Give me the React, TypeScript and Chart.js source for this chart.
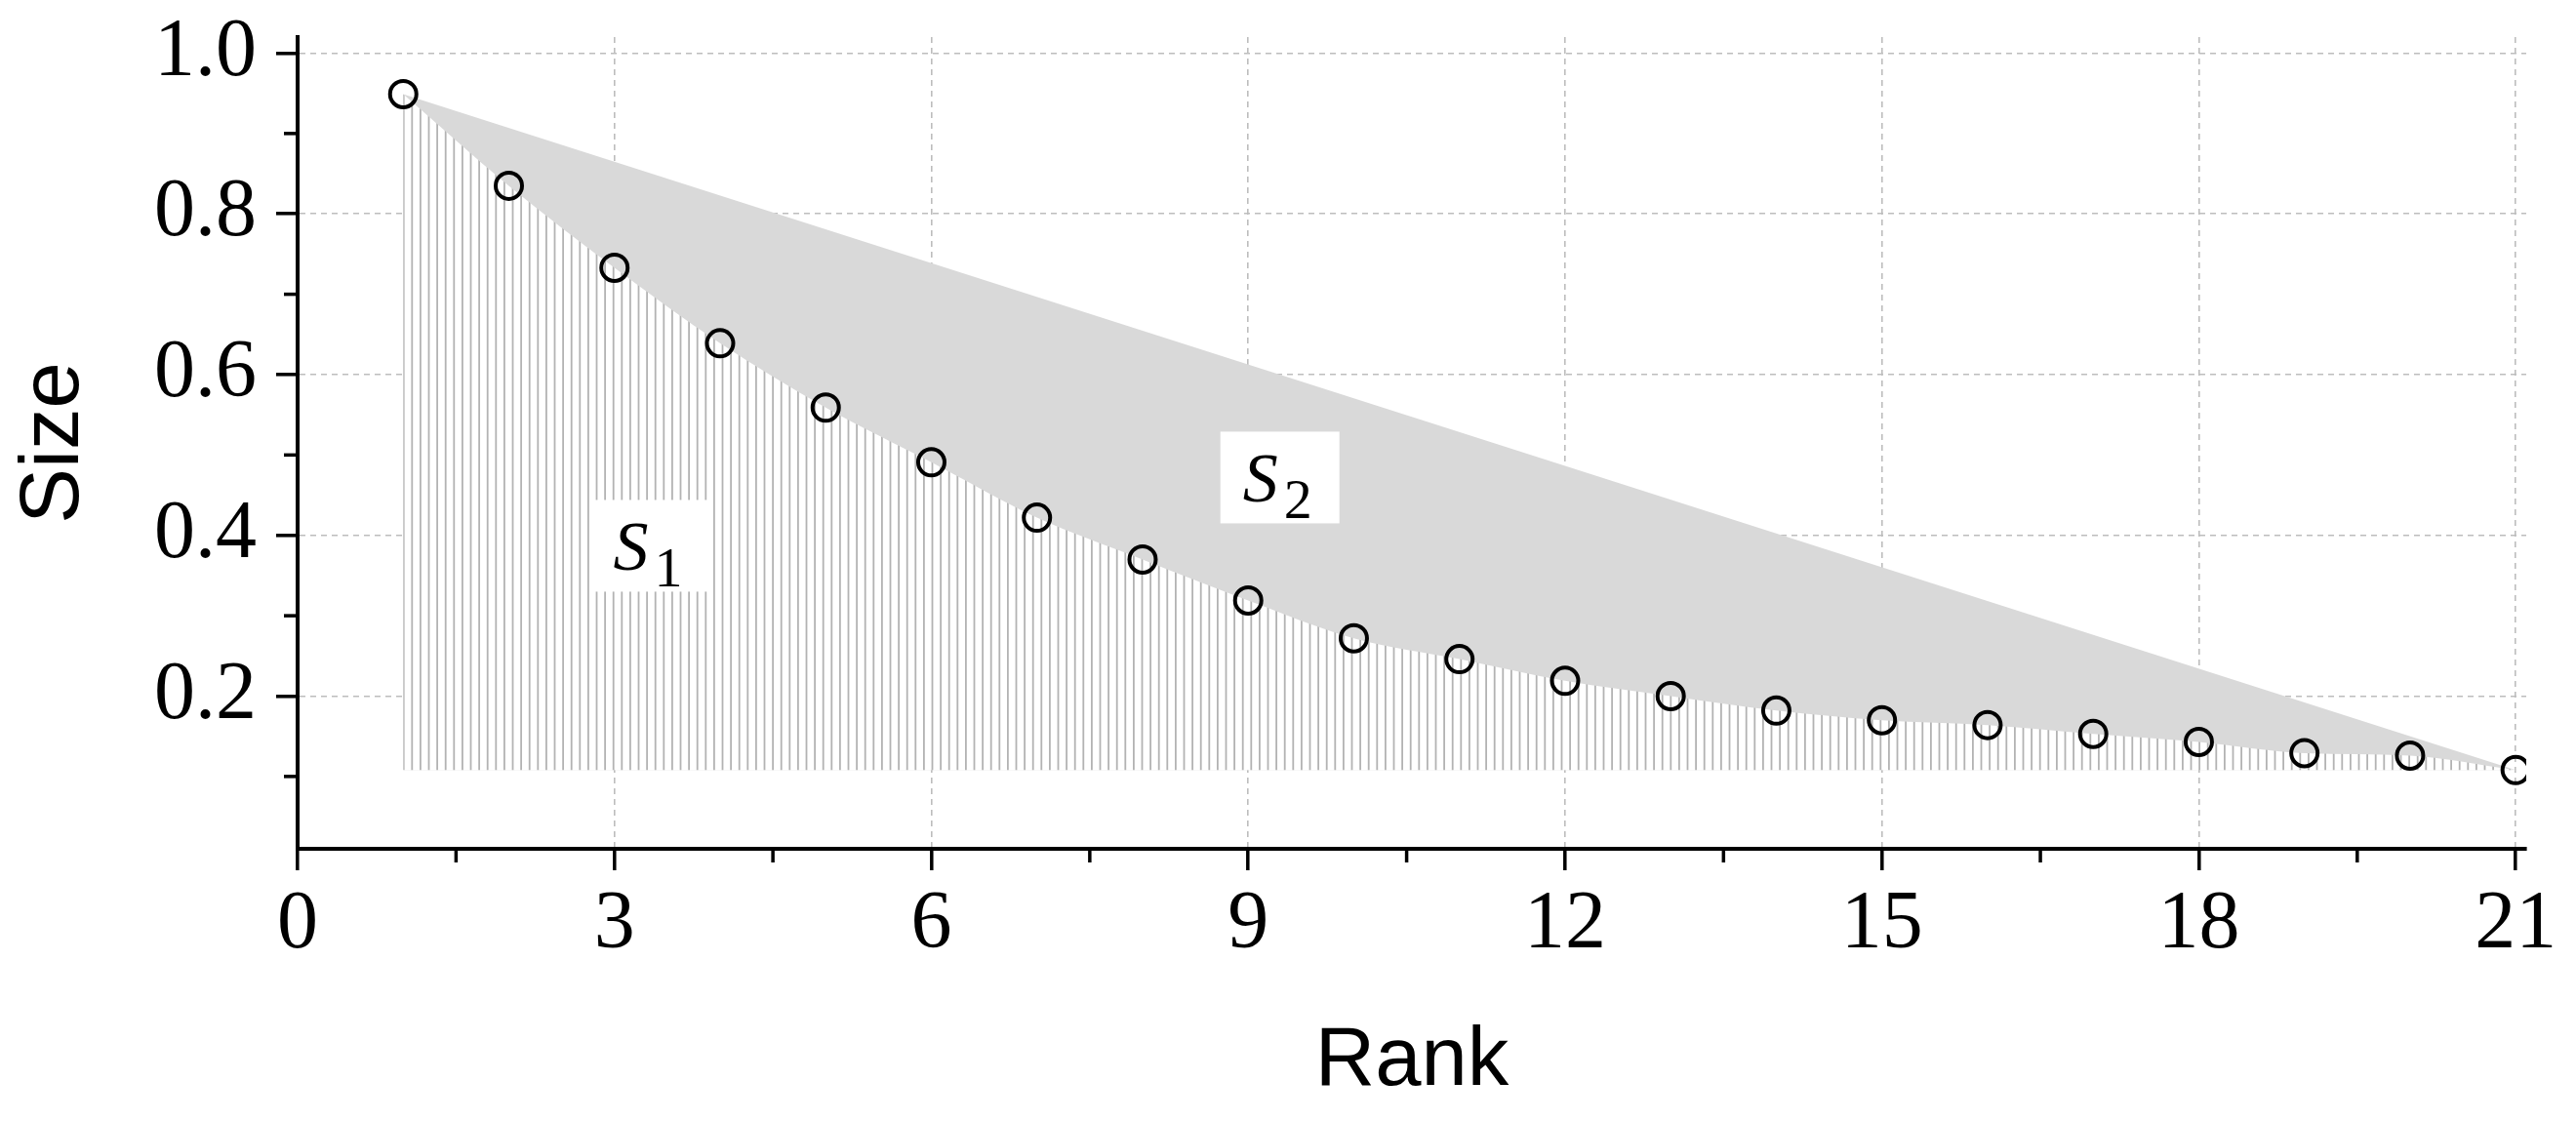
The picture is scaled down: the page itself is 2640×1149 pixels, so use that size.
import React, { useEffect, useRef } from "react";
import { Chart, registerables } from "chart.js";

Chart.register(...registerables);

// ---- data ----
const RANKS = [1, 2, 3, 4, 5, 6, 7, 8, 9, 10, 11, 12, 13, 14, 15, 16, 17, 18, 19, 20, 21];
const SIZES = [
  0.949, 0.835, 0.733, 0.639, 0.559, 0.491, 0.422, 0.37, 0.319, 0.272, 0.246,
  0.219, 0.2, 0.182, 0.17, 0.164, 0.153, 0.143, 0.129, 0.126, 0.108,
];
const HATCH_BASE = 0.108;
const X_MINOR_TICKS = [1.5, 4.5, 7.5, 10.5, 13.5, 16.5, 19.5];
const Y_MINOR_TICKS = [0.1, 0.3, 0.5, 0.7, 0.9];
const AREA_LABELS = [
  { main: "S", sub: "1", x: 3.34, y: 0.387 },
  { main: "S", sub: "2", x: 9.3, y: 0.472 },
];
const X_TITLE = "Rank";
const Y_TITLE = "Size";

const SERIF = '"Liberation Serif", "Times New Roman", serif';
const SANS = '"Liberation Sans", Arial, sans-serif';

function makeHatch(ctx: CanvasRenderingContext2D): CanvasPattern | string {
  const c = document.createElement("canvas");
  const period = 8.6;
  const n = 10;
  c.width = Math.round(period * n);
  c.height = 8;
  const g = c.getContext("2d");
  if (!g) return "#e0e0e0";
  g.fillStyle = "#ffffff";
  g.fillRect(0, 0, c.width, c.height);
  g.fillStyle = "#b3b3b3";
  for (let i = 0; i < n; i++) {
    g.fillRect(i * period, 0, 1.8, c.height);
  }
  return ctx.createPattern(c, "repeat") || "#e0e0e0";
}

const minorTicksPlugin = {
  id: "minorTicks",
  afterDraw(chart: any) {
    const { ctx } = chart;
    const xs = chart.scales.x;
    const ys = chart.scales.y;
    ctx.save();
    ctx.strokeStyle = "#000";
    ctx.lineWidth = 3.5;
    ctx.setLineDash([]);
    Y_MINOR_TICKS.forEach((v) => {
      const py = ys.getPixelForValue(v);
      ctx.beginPath();
      ctx.moveTo(ys.right - 2, py);
      ctx.lineTo(ys.right - 2 - 12, py);
      ctx.stroke();
    });
    X_MINOR_TICKS.forEach((v) => {
      const px = xs.getPixelForValue(v);
      ctx.beginPath();
      ctx.moveTo(px, xs.top + 2);
      ctx.lineTo(px, xs.top + 2 + 12);
      ctx.stroke();
    });
    ctx.restore();
  },
};

const areaLabelsPlugin = {
  id: "areaLabels",
  afterDatasetsDraw(chart: any) {
    const { ctx } = chart;
    const xs = chart.scales.x;
    const ys = chart.scales.y;
    ctx.save();
    AREA_LABELS.forEach((l) => {
      const cx = xs.getPixelForValue(l.x);
      const cy = ys.getPixelForValue(l.y);
      ctx.fillStyle = "#ffffff";
      ctx.fillRect(cx - 61, cy - 47, 122, 94);
      ctx.fillStyle = "#000";
      ctx.textAlign = "left";
      ctx.textBaseline = "alphabetic";
      ctx.font = `italic 72px ${SERIF}`;
      ctx.fillText(l.main, cx - 38, cy + 25);
      ctx.font = `58px ${SERIF}`;
      ctx.fillText(l.sub, cx + 4, cy + 42);
    });
    ctx.restore();
  },
};

export default function App() {
  const canvasRef = useRef<HTMLCanvasElement | null>(null);

  useEffect(() => {
    const canvas = canvasRef.current;
    if (!canvas) return;
    const ctx = canvas.getContext("2d");
    if (!ctx) return;
    const hatch = makeHatch(ctx);

    const points = RANKS.map((r, i) => ({ x: r, y: SIZES[i] }));
    const chord = [
      { x: RANKS[0], y: SIZES[0] },
      { x: RANKS[RANKS.length - 1], y: SIZES[SIZES.length - 1] },
    ];

    const gridCommon = {
      color: "#bdbdbd",
      lineWidth: 1.6,
      tickLength: 22,
      tickWidth: 3.5,
      tickColor: "#000",
      tickBorderDash: [],
    };
    const borderCommon = { color: "#000", width: 4, dash: [6, 5] };

    const chart = new Chart(ctx, {
      type: "line",
      data: {
        datasets: [
          {
            label: "Size",
            data: points,
            showLine: false,
            pointStyle: "circle",
            pointRadius: 13.5,
            pointBorderWidth: 4,
            pointBorderColor: "#000",
            pointBackgroundColor: "rgba(0,0,0,0)",
            fill: false,
          },
          {
            label: "S1",
            data: points,
            showLine: true,
            cubicInterpolationMode: "monotone",
            borderWidth: 0,
            borderColor: "rgba(0,0,0,0)",
            pointRadius: 0,
            backgroundColor: hatch as any,
            fill: { value: HATCH_BASE },
          },
          {
            label: "S2",
            data: chord,
            showLine: true,
            borderWidth: 0,
            borderColor: "rgba(0,0,0,0)",
            pointRadius: 0,
            backgroundColor: "#d9d9d9",
            fill: { value: HATCH_BASE },
          },
        ],
      },
      options: {
        responsive: false,
        animation: false,
        devicePixelRatio: 1,
        layout: { padding: { left: 0, top: 38, right: 51, bottom: 0 } },
        plugins: {
          legend: { display: false },
          tooltip: { enabled: false },
        },
        scales: {
          x: {
            type: "linear",
            min: 0,
            max: 21.1,
            afterFit(s: any) {
              s.height = 279;
              s.paddingLeft = 0;
              s.paddingRight = 0;
            },
            ticks: {
              stepSize: 3,
              includeBounds: false,
              autoSkip: false,
              maxRotation: 0,
              color: "#000",
              padding: 7,
              font: { family: SERIF, size: 84 },
              callback: (v: any) => String(v),
            },
            grid: gridCommon,
            border: borderCommon,
            title: {
              display: true,
              text: X_TITLE,
              color: "#000",
              font: { family: SANS, size: 85 },
              padding: { top: 0, bottom: 9 },
            },
          },
          y: {
            type: "linear",
            min: 0.01,
            max: 1.02,
            afterFit(s: any) {
              s.width = 305;
              s.paddingTop = 0;
              s.paddingBottom = 0;
            },
            ticks: {
              stepSize: 0.2,
              includeBounds: false,
              color: "#000",
              padding: 20,
              font: { family: SERIF, size: 84 },
              callback: (v: any) => Number(v).toFixed(1),
            },
            grid: gridCommon,
            border: borderCommon,
            title: {
              display: true,
              text: Y_TITLE,
              color: "#000",
              font: { family: SANS, size: 85 },
              padding: { top: 6, bottom: 0 },
            },
          },
        },
      } as any,
      plugins: [minorTicksPlugin, areaLabelsPlugin],
    });

    return () => {
      chart.destroy();
    };
  }, []);

  return (
    <div
      style={{
        position: "fixed",
        left: 0,
        top: 0,
        width: 2640,
        height: 1149,
        background: "#ffffff",
      }}
    >
      <canvas
        ref={canvasRef}
        width={2640}
        height={1149}
        style={{ display: "block", width: 2640, height: 1149 }}
      />
    </div>
  );
}
